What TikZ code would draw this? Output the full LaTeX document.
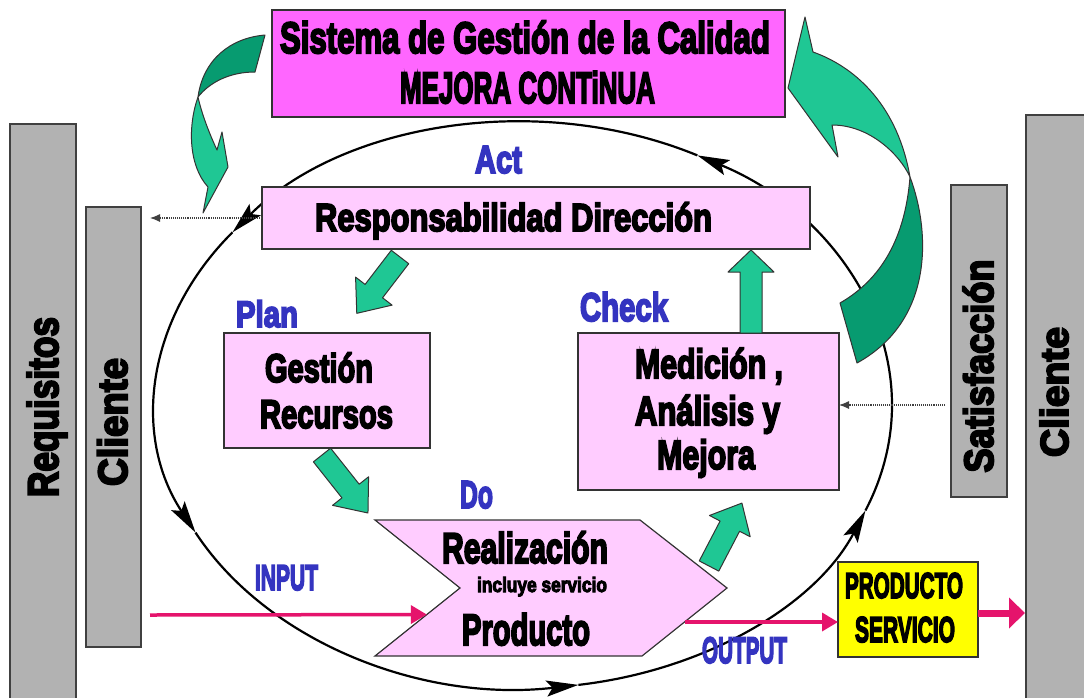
\documentclass[tikz,border=0pt]{standalone}
\usepackage{fontspec}
\usepackage{graphicx}
\usetikzlibrary{arrows.meta,calc}
\newfontfamily\cond{Liberation Sans}[FakeBold=5]
\definecolor{boxpink}{HTML}{FFCCFF}
\definecolor{titlepink}{HTML}{FF66FF}
\definecolor{bargray}{HTML}{B2B2B2}
\definecolor{lblue}{HTML}{3434C0}
\definecolor{gLight}{HTML}{1FC794}
\definecolor{gDark}{HTML}{079B70}
\definecolor{pinkred}{HTML}{E5146C}
\definecolor{yel}{HTML}{FFFF00}
% size, target width, text
\newcommand{\fw}[3]{{\fontsize{#1}{#1}\selectfont\cond\bfseries\resizebox{#2pt}{\height}{#3}}}
\newcommand{\grarrow}[7]{%
  \begin{scope}[shift={(#1,#2)},rotate=#3]
    \path[gfront] (0,{-#5/2}) -- ({#4-#7},{-#5/2}) -- ({#4-#7},{-#6/2}) -- (#4,0)
      -- ({#4-#7},{#6/2}) -- ({#4-#7},{#5/2}) -- (0,{#5/2}) -- cycle;
  \end{scope}}
\newcommand{\ellseg}[3]{%
  \draw[ellline,#3] ({524+368*cos(#1)},{405+283*sin(#1)}) arc[start angle=#1,end angle=#2,x radius=368,y radius=283];}
\begin{document}
\begin{tikzpicture}[x=1pt,y=-1pt,
  box/.style={draw=black!80, line width=1.2pt, fill=boxpink, inner sep=0pt, outer sep=0pt},
  bar/.style={draw=black!75, line width=1.2pt, fill=bargray, inner sep=0pt, outer sep=0pt},
  txt/.style={inner sep=0pt, outer sep=0pt, anchor=base},
  lbl/.style={txt, text=lblue},
  ellline/.style={line width=2.2pt, black},
  etip/.style={-{Stealth[length=32pt,width=16pt,inset=6pt]}},
  gfront/.style={draw=black!80, line width=1pt, fill=gLight, line join=round},
  gback/.style={draw=black!80, line width=1pt, fill=gDark, line join=round},
  dots/.style={densely dotted, line width=1.1pt, black!75, -{Latex[length=10pt,width=8pt]}},
  pinkarr/.style={line width=3.5pt, pinkred, -{Triangle[length=16pt,width=18pt]}},
  pinkthick/.style={line width=7pt, pinkred, -{Triangle[length=16pt,width=30pt]}}
]
\useasboundingbox[fill=white] (0,0) rectangle (1084,697);

% side bars
\node[bar, minimum width=66pt, minimum height=600pt] (barReq) at (43,424) {};
\node[bar, minimum width=55pt, minimum height=440pt] (barCliL) at (113.5,427) {};
\node[bar, minimum width=56pt, minimum height=312pt] (barSat) at (979,341) {};
\node[bar, minimum width=64pt, minimum height=600pt] (barCliR) at (1058,415) {};

% cycle ellipse with arrow heads
\ellseg{0}{-61.9}{etip}
\ellseg{-61.9}{-142.4}{etip}
\ellseg{-142.4}{-206.8}{etip}
\ellseg{-206.8}{-278.5}{etip}
\ellseg{-278.5}{-338.1}{etip}
\ellseg{-338.1}{-360}{}

% boxes
\node[box, fill=titlepink, minimum width=513pt, minimum height=107pt] (title) at (528.5,63.5) {};
\node[box, minimum width=548pt, minimum height=62pt] (resp) at (536,218) {};
\node[box, minimum width=206pt, minimum height=115pt] (gest) at (327,390.5) {};
\node[box, minimum width=261pt, minimum height=157pt] (med) at (708.5,411.5) {};
\node[box, fill=yel, minimum width=140pt, minimum height=95pt] (prod) at (908,609.5) {};
\coordinate (c1) at (375,520);
\coordinate (c2) at (640,520);
\coordinate (c3) at (727,588);
\coordinate (c4) at (642,656);
\coordinate (c5) at (375,656);
\coordinate (c6) at (460,588);
\draw[box] (c1) -- (c2) -- (c3) -- (c4) -- (c5) -- (c6) -- cycle;

% straight green arrows
\grarrow{400}{257}{-127.5}{71}{22}{46}{28}
\grarrow{322}{455}{-51.6}{74}{22}{46}{28}
\grarrow{709}{566}{62.4}{71}{22}{46}{26}
\grarrow{751}{333}{90}{83}{22}{46}{22}

% curved green arrow, left
\path[gback] (265,35) .. controls (230,38) and (203,60) .. (198,97)
  .. controls (210,82) and (230,72) .. (255,72) -- cycle;
\path[gfront] (198,97) .. controls (188,125) and (188,165) .. (208,187)
  -- (203,213) -- (228,167) -- (222,132) -- (217,150)
  .. controls (210,135) and (202,115) .. (198,97) -- cycle;

% curved green arrow, right
\path[gfront] (805,17) -- (813,52) .. controls (858,68) and (898,108) .. (910,177)
  .. controls (900,155) and (870,125) .. (832,125) -- (838,157) -- (788,88) -- cycle;
\path[gback] (910,177) .. controls (930,230) and (935,320) .. (857,363)
  -- (840,303) .. controls (880,280) and (905,240) .. (910,177) -- cycle;

% dotted arrows
\coordinate (dL) at (150,218);
\draw[dots] (resp.west) -- (dL);
\coordinate (dR) at (945,405);
\draw[dots] (dR) -- (med.east |- dR);

% pink arrows
\coordinate (inS) at (150,615);
\coordinate (inE) at ($(c6)!0.39!(c5)$);
\draw[pinkarr] (inS) -- (inE);
\coordinate (outS) at ($(c3)!0.5!(c4)$);
\draw[pinkarr] (outS) -- (prod.west |- outS);
\coordinate (toCli) at (1025,613);
\draw[pinkthick] (prod.east |- toCli) -- (toCli);

% texts
\node[txt] (t1) at (525,53) {\fw{44}{490}{Sistema de Gestión de la Calidad}};
\node[txt] (t2) at (527.5,103) {\fw{44}{255}{MEJORA CONTiNUA}};
\node[lbl] (act) at (498.5,173) {\fw{39}{47}{Act}};
\node[txt] (tresp) at (513.5,231) {\fw{39}{397}{Responsabilidad Dirección}};
\node[lbl] (plan) at (267,327) {\fw{37}{62}{Plan}};
\node[txt] (tg1) at (319,382) {\fw{40}{108}{Gestión}};
\node[txt] (tg2) at (326.5,428) {\fw{40}{133}{Recursos}};
\node[lbl] (check) at (624,321) {\fw{40}{88}{Check}};
\node[txt] (tm1) at (709,378) {\fw{41}{148}{Medición ,}};
\node[txt] (tm2) at (707.5,425) {\fw{41}{145}{Análisis y}};
\node[txt] (tm3) at (706,469) {\fw{41}{98}{Mejora}};
\node[lbl] (do) at (476.5,508) {\fw{39}{33}{Do}};
\node[txt] (tr1) at (525,563) {\fw{43}{166}{Realización}};
\node[txt] (tr2) at (542,592) {\fw{21}{130}{incluye servicio}};
\node[txt] (tr3) at (526,645) {\fw{44}{128}{Producto}};
\node[lbl] (input) at (286.5,590) {\fw{36}{63}{INPUT}};
\node[lbl] (output) at (744.5,663) {\fw{37}{85}{OUTPUT}};
\node[txt] (tp1) at (904,598) {\fw{36}{118}{PRODUCTO}};
\node[txt] (tp2) at (905,642) {\fw{36}{100}{SERVICIO}};
\node[txt, rotate=90] (treq) at (58,407) {\fw{43}{180}{Requisitos}};
\node[txt, rotate=90] (tcl) at (127,422) {\fw{41}{128}{Cliente}};
\node[txt, rotate=90] (tsat) at (993,366) {\fw{41}{213}{Satisfacción}};
\node[txt, rotate=90] (tcr) at (1068,392) {\fw{39}{130}{Cliente}};
\end{tikzpicture}
\end{document}
